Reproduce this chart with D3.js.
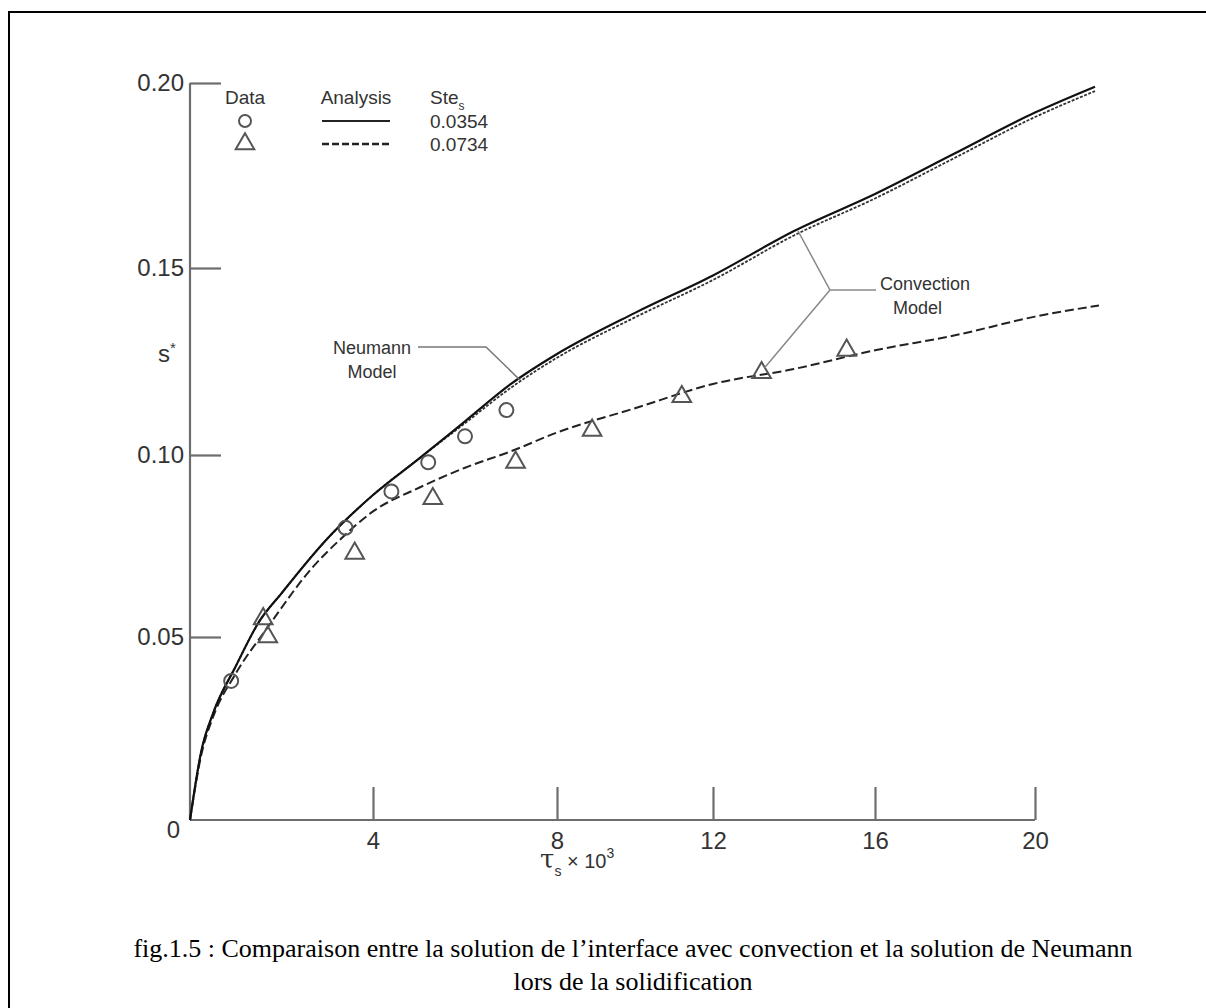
<!DOCTYPE html>
<html>
<head>
<meta charset="utf-8">
<script src="https://cdn.jsdelivr.net/npm/d3@7"></script>
<style>
  body { margin: 0; background: #fff; }
  svg { display: block; }
  .tick text { font-family: "Liberation Sans", Arial, sans-serif; font-size: 24px; fill: #333; }
  .lab { font-family: "Liberation Sans", Arial, sans-serif; fill: #333; }
  .cap { font-family: "Liberation Serif", "Times New Roman", serif; font-size: 26px; fill: #000; }
</style>
</head>
<body>
<div class="svg-container"></div>
<script>
// Data: tau_s x 10^3 vs s*
const xTicks = [4, 8, 12, 16, 20];
const yTicks = [0.05, 0.10, 0.15, 0.20];
const yTickLabels = ['0.05', '0.10', '0.15', '0.20'];

// Neumann model (upper solid)
const neumannTau = [0, 0.25, 0.5, 1, 1.5, 2, 3, 4, 5, 6, 7, 8, 10, 12, 14, 16, 18, 20, 21.5];
const neumannS   = [0, 0.019, 0.029, 0.042, 0.054, 0.062, 0.077, 0.089, 0.099, 0.109, 0.119, 0.127, 0.138, 0.148, 0.160, 0.170, 0.181, 0.192, 0.199];

// Convection model, Ste = 0.0354 (solid, hugging the Neumann curve)
const conv1Tau = [0, 0.25, 0.5, 1, 1.5, 2, 3, 4, 5, 6, 7, 8, 10, 12, 14, 16, 18, 20, 21.5];
const conv1S   = [0, 0.019, 0.029, 0.042, 0.054, 0.062, 0.077, 0.089, 0.099, 0.1085, 0.118, 0.126, 0.1368, 0.1468, 0.1588, 0.1688, 0.1798, 0.1908, 0.1978];

// Convection model, Ste = 0.0734 (dashed)
const conv2Tau = [0, 0.25, 0.5, 1, 1.7, 2.67, 3.3, 4, 5, 6, 7, 8, 10, 12, 14, 16, 18, 20, 21.6];
const conv2S   = [0, 0.018, 0.028, 0.040, 0.0527, 0.069, 0.077, 0.0845, 0.091, 0.0965, 0.101, 0.106, 0.1125, 0.119, 0.123, 0.128, 0.132, 0.137, 0.140];

// Data points
const circleTau = [0.9, 3.4, 4.4, 5.2, 6.0, 6.9];
const circleS   = [0.038, 0.080, 0.090, 0.098, 0.105, 0.112];
const triTau = [1.6, 1.7, 3.6, 5.3, 7.1, 8.9, 11.2, 13.2, 15.3];
const triS   = [0.055, 0.050, 0.073, 0.088, 0.098, 0.1066, 0.1156, 0.122, 0.128];

const zip = (a, b) => a.map((v, i) => ({ t: v, s: b[i] }));

const W = 1206, H = 1008;
const svg = d3.select('.svg-container')
  .append('svg')
  .attr('width', W)
  .attr('height', H);

// page frame
svg.append('path')
  .attr('d', `M9,${H} V12 H${W}`)
  .attr('fill', 'none')
  .attr('stroke', '#000')
  .attr('stroke-width', 2);

// scanned figure is slightly uneven, so piecewise scales
const xScale = d3.scaleLinear()
  .domain([0, 4, 8, 12, 16, 20, 24])
  .range([190, 373, 557, 713, 875, 1035, 1195]);
const yScale = d3.scaleLinear()
  .domain([0, 0.05, 0.10, 0.15, 0.20])
  .range([820, 637, 455, 268, 83]);

const axisColor = '#6d6d6d';

// x axis (ticks pointing up)
const xAxis = d3.axisBottom(xScale)
  .tickValues(xTicks)
  .tickFormat(d3.format('d'))
  .tickSizeInner(-33)
  .tickSizeOuter(0)
  .tickPadding(12);
const gx = svg.append('g')
  .attr('class', 'x axis')
  .attr('transform', `translate(0, ${yScale(0)})`)
  .call(xAxis);
gx.select('.domain').attr('d', `M${xScale(0)},0H${xScale(20)}`);

// y axis (ticks pointing right)
const yAxis = d3.axisLeft(yScale)
  .tickValues(yTicks)
  .tickFormat((d, i) => yTickLabels[i])
  .tickSizeInner(-31)
  .tickSizeOuter(0)
  .tickPadding(6);
const gy = svg.append('g')
  .attr('class', 'y axis')
  .attr('transform', `translate(${xScale(0)}, 0)`)
  .call(yAxis);
gy.select('.domain').attr('d', `M0,${yScale(0)}V${yScale(0.2)}`);

svg.selectAll('.axis .domain, .axis .tick line')
  .attr('stroke', axisColor)
  .attr('stroke-width', 2.2);

svg.append('text')
  .attr('class', 'lab')
  .attr('x', xScale(0) - 10)
  .attr('y', yScale(0) + 18)
  .attr('text-anchor', 'end')
  .attr('font-size', 24)
  .text('0');

// axis titles
const yt = svg.append('text').attr('class', 'lab')
  .attr('x', 158).attr('y', 362).attr('font-size', 24);
yt.append('tspan').text('s');
yt.append('tspan').attr('font-size', 15).attr('dy', -9).text('*');

const xt = svg.append('text').attr('class', 'lab')
  .attr('x', 540).attr('y', 868).attr('font-size', 26);
xt.append('tspan').attr('font-family', '"DejaVu Serif", serif').text('τ');
xt.append('tspan').attr('font-size', 14).attr('dy', 8).text('s');
xt.append('tspan').attr('font-size', 20).attr('dy', -8).text(' × 10');
xt.append('tspan').attr('font-size', 14).attr('dy', -10).text('3');

// curves
const line = d3.line()
  .x(d => xScale(d.t))
  .y(d => yScale(d.s))
  .curve(d3.curveMonotoneX);

svg.append('path')
  .datum(zip(conv2Tau, conv2S))
  .attr('d', line)
  .attr('fill', 'none')
  .attr('stroke', '#222')
  .attr('stroke-width', 2)
  .attr('stroke-dasharray', '9,4');

svg.append('path')
  .datum(zip(conv1Tau, conv1S))
  .attr('d', line)
  .attr('fill', 'none')
  .attr('stroke', '#333')
  .attr('stroke-width', 1.8)
  .attr('stroke-dasharray', '3,1.5');

svg.append('path')
  .datum(zip(neumannTau, neumannS))
  .attr('d', line)
  .attr('fill', 'none')
  .attr('stroke', '#111')
  .attr('stroke-width', 2.2);

// markers
svg.selectAll('.circ')
  .data(zip(circleTau, circleS))
  .enter()
  .append('circle')
  .attr('class', 'circ')
  .attr('cx', d => xScale(d.t))
  .attr('cy', d => yScale(d.s))
  .attr('r', 7)
  .attr('fill', 'none')
  .attr('stroke', '#555')
  .attr('stroke-width', 2);

const tri = d3.symbol().type(d3.symbolTriangle).size(150);
svg.selectAll('.tri')
  .data(zip(triTau, triS))
  .enter()
  .append('path')
  .attr('class', 'tri')
  .attr('d', tri)
  .attr('transform', d => `translate(${xScale(d.t)}, ${yScale(d.s)})`)
  .attr('fill', 'none')
  .attr('stroke', '#555')
  .attr('stroke-width', 2);

// legend
const lg = svg.append('g').attr('class', 'legend');
const lgFont = 19;
[['Data', 245], ['Analysis', 356]].forEach(([t, x]) => {
  lg.append('text').attr('class', 'lab').attr('x', x).attr('y', 104)
    .attr('text-anchor', 'middle').attr('font-size', lgFont).text(t);
});
const ste = lg.append('text').attr('class', 'lab').attr('x', 430).attr('y', 104).attr('font-size', lgFont);
ste.append('tspan').text('Ste');
ste.append('tspan').attr('font-size', 12).attr('dy', 6).text('s');

lg.append('circle').attr('cx', 245).attr('cy', 121).attr('r', 6)
  .attr('fill', 'none').attr('stroke', '#555').attr('stroke-width', 2);
lg.append('path').attr('d', tri).attr('transform', 'translate(245,144)')
  .attr('fill', 'none').attr('stroke', '#555').attr('stroke-width', 2);
lg.append('line').attr('x1', 322).attr('x2', 390).attr('y1', 121).attr('y2', 121)
  .attr('stroke', '#222').attr('stroke-width', 2);
lg.append('line').attr('x1', 322).attr('x2', 390).attr('y1', 144).attr('y2', 144)
  .attr('stroke', '#222').attr('stroke-width', 2.5).attr('stroke-dasharray', '7,3');
['0.0354', '0.0734'].forEach((t, i) => {
  lg.append('text').attr('class', 'lab').attr('x', 430).attr('y', 128 + i * 23)
    .attr('font-size', lgFont).text(t);
});

// annotations
const ann = svg.append('g');
ann.append('text').attr('class', 'lab').attr('x', 372).attr('y', 354)
  .attr('text-anchor', 'middle').attr('font-size', 18).text('Neumann');
ann.append('text').attr('class', 'lab').attr('x', 372).attr('y', 378)
  .attr('text-anchor', 'middle').attr('font-size', 18).text('Model');
ann.append('path')
  .attr('d', `M418,347 H486 L${xScale(7.2)},${yScale(0.120)}`)
  .attr('fill', 'none').attr('stroke', '#777').attr('stroke-width', 1.5);

ann.append('text').attr('class', 'lab').attr('x', 880).attr('y', 290)
  .attr('font-size', 18).text('Convection');
ann.append('text').attr('class', 'lab').attr('x', 893).attr('y', 314)
  .attr('font-size', 18).text('Model');
ann.append('path')
  .attr('d', `M${xScale(14.1)},${yScale(0.160)} L830,290 H876 M830,290 L${xScale(13.2) + 3},${yScale(0.122) - 5}`)
  .attr('fill', 'none').attr('stroke', '#888').attr('stroke-width', 1.5);

// caption
svg.append('text').attr('class', 'cap').attr('x', 633).attr('y', 957)
  .attr('text-anchor', 'middle')
  .text('fig.1.5 : Comparaison entre la solution de l’interface avec convection et la solution de Neumann');
svg.append('text').attr('class', 'cap').attr('x', 633).attr('y', 990)
  .attr('text-anchor', 'middle')
  .text('lors de la solidification');
</script>
</body>
</html>
